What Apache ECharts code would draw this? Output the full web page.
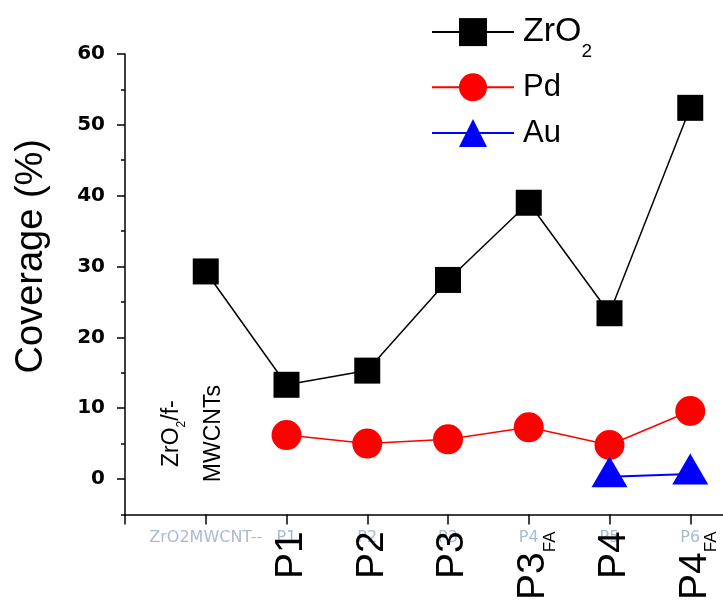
<!DOCTYPE html>
<html>
<head>
<meta charset="utf-8">
<script src="https://cdn.jsdelivr.net/npm/echarts@6/dist/echarts.min.js"></script>
<style>
  html, body { margin: 0; padding: 0; background: #ffffff; }
  #chart { width: 723px; height: 600px; }
</style>
</head>
<body>
<div id="chart"></div>
<script>
// Samples in the order they sit on the x axis (positions 1..7)
const categories = ['ZrO2/f-MWCNTs', 'P1', 'P2', 'P3', 'P3FA', 'P4', 'P4FA'];
// Small printed tags under each tick
const tickTags = ['ZrO2MWCNT--', 'P1', 'P2', 'P3', 'P4', 'P5', 'P6'];
// Large rotated sample labels (rich-text markup, {s|..} = subscript)
const tickLabels = ['', '{m|P1}', '{m|P2}', '{m|P3}', '{m|P3}{s|FA}', '{m|P4}', '{m|P4}{s|FA}'];
// Y axis tick values
const yTicks = [0, 10, 20, 30, 40, 50, 60];
const yMinorTicks = [-5, 5, 15, 25, 35, 45, 55];
// Coverage (%) per sample; null = not measured
const zro2 = [29.3, 13.3, 15.3, 28.1, 39.0, 23.4, 52.4];
const pd   = [null, 6.2, 5.0, 5.6, 7.3, 4.8, 9.6];
const au   = [null, null, null, null, null, 0.3, 0.7];

const xPositions = categories.map((c, i) => i + 1);
const toPairs = vals => vals
  .map((v, i) => [xPositions[i], v])
  .filter(p => p[1] !== null);

const FONT = '"Liberation Sans", Arial, sans-serif';
const BOLD_FONT = '"DejaVu Sans", sans-serif';

const chart = echarts.init(document.getElementById('chart'), null, { renderer: 'canvas' });

const option = {
  animation: false,
  backgroundColor: '#ffffff',
  grid: {
    left: 125, top: 54, bottom: 85.6, right: -48,
    containLabel: false, outerBoundsMode: 'none'
  },
  xAxis: [
    {
      type: 'value', position: 'bottom', min: 0, max: 8,
      axisLine: { show: true, onZero: false, lineStyle: { color: '#000', width: 1.5 } },
      axisTick: {
        show: true, inside: false, length: 10,
        customValues: [0, 1, 2, 3, 4, 5, 6, 7, 8],
        lineStyle: { color: '#000', width: 1.5 }
      },
      axisLabel: {
        customValues: xPositions,
        formatter: v => tickTags[v - 1] || '',
        color: '#a9bbd3', fontFamily: BOLD_FONT, fontSize: 16, margin: 15
      },
      splitLine: { show: false }
    },
    {
      type: 'value', position: 'bottom', min: 0, max: 8,
      axisLine: { show: false },
      axisTick: { show: false },
      splitLine: { show: false },
      axisLabel: {
        customValues: xPositions,
        rotate: 90,
        margin: 17,
        padding: [9, 0, 0, 0],
        formatter: v => tickLabels[v - 1] || '',
        rich: {
          m: { fontFamily: FONT, fontSize: 39, lineHeight: 39, color: '#000', verticalAlign: 'middle' },
          s: { fontFamily: FONT, fontSize: 17, lineHeight: 17, color: '#000',
               padding: [34, 0, 0, 0], verticalAlign: 'middle' }
        }
      }
    }
  ],
  yAxis: [
    {
      type: 'value', position: 'left', min: -5, max: 60,
      axisLine: { show: true, onZero: false, lineStyle: { color: '#000', width: 1.5 } },
      axisTick: {
        show: true, inside: false, length: 8, customValues: yTicks,
        lineStyle: { color: '#000', width: 1.5 }
      },
      axisLabel: {
        customValues: yTicks,
        fontFamily: BOLD_FONT, fontWeight: 'bold', fontSize: 20, color: '#000', margin: 20
      },
      splitLine: { show: false },
      name: 'Coverage (%)',
      nameLocation: 'middle',
      nameRotate: 90,
      nameGap: 74,
      nameTextStyle: { fontFamily: FONT, fontSize: 38, color: '#000', padding: [0, 0, 0, 56] }
    },
    {
      type: 'value', position: 'left', min: -5, max: 60,
      axisLine: { show: false },
      axisTick: {
        show: true, inside: false, length: 4, customValues: yMinorTicks,
        lineStyle: { color: '#000', width: 1.5 }
      },
      axisLabel: { show: false },
      splitLine: { show: false }
    }
  ],
  legend: [
    {
      data: ['ZrO2'], orient: 'vertical', left: 431, top: 2.6, padding: 0,
      itemWidth: 82, itemHeight: 35, selectedMode: false,
      formatter: () => '{m|ZrO}{s|2}',
      textStyle: {
        padding: [0, 0, 0, 4],
        rich: {
          m: { fontFamily: FONT, fontSize: 34, lineHeight: 34, color: '#000', verticalAlign: 'middle' },
          s: { fontFamily: FONT, fontSize: 19, lineHeight: 19, color: '#000',
               padding: [40, 0, 0, 0], verticalAlign: 'middle' }
        }
      }
    },
    {
      data: ['Pd'], orient: 'vertical', left: 431, top: 71.8, padding: 0,
      itemWidth: 82, itemHeight: 35, selectedMode: false,
      textStyle: { fontFamily: FONT, fontSize: 31, color: '#000', padding: [0, 0, 0, 4] }
    },
    {
      data: ['Au'], orient: 'vertical', left: 431, top: 117.5, padding: 0,
      itemWidth: 82, itemHeight: 35, selectedMode: false,
      textStyle: { fontFamily: FONT, fontSize: 31, color: '#000', padding: [0, 0, 0, 4] }
    }
  ],
  series: [
    {
      name: 'ZrO2', type: 'line', xAxisIndex: 0, yAxisIndex: 0,
      data: toPairs(zro2),
      symbol: 'rect', symbolSize: 26,
      itemStyle: { color: '#000000' },
      lineStyle: { color: '#000000', width: 1.5 },
      z: 2
    },
    {
      name: 'Pd', type: 'line', xAxisIndex: 0, yAxisIndex: 0,
      data: toPairs(pd),
      symbol: 'circle', symbolSize: 30,
      itemStyle: { color: '#ff0000' },
      lineStyle: { color: '#ff0000', width: 1.5 },
      z: 3
    },
    {
      name: 'Au', type: 'line', xAxisIndex: 0, yAxisIndex: 0,
      data: toPairs(au),
      symbol: 'triangle', symbolSize: [36, 31], symbolOffset: [0, -5],
      itemStyle: { color: '#0000ff' },
      lineStyle: { color: '#0000ff', width: 2 },
      z: 4
    }
  ]
};

chart.setOption(option);

// Label of the first sample, placed upright inside the plot above its tick
const labelAt = chart.convertToPixel({ gridIndex: 0 }, [0.84, 6.4]);
chart.setOption({
  graphic: [
    {
      type: 'text',
      x: labelAt[0], y: labelAt[1],
      rotation: Math.PI / 2,
      silent: true,
      style: {
        text: '{m|ZrO}{s|2}{m|/f-}\n{m|MWCNTs}',
        align: 'center', verticalAlign: 'middle',
        fill: '#000',
        rich: {
          m: { fontFamily: FONT, fontSize: 23, lineHeight: 42, fill: '#000', verticalAlign: 'middle' },
          s: { fontFamily: FONT, fontSize: 12, lineHeight: 12, fill: '#000',
               padding: [19, 0, 0, 0], verticalAlign: 'middle' }
        }
      }
    }
  ]
});
</script>
</body>
</html>
